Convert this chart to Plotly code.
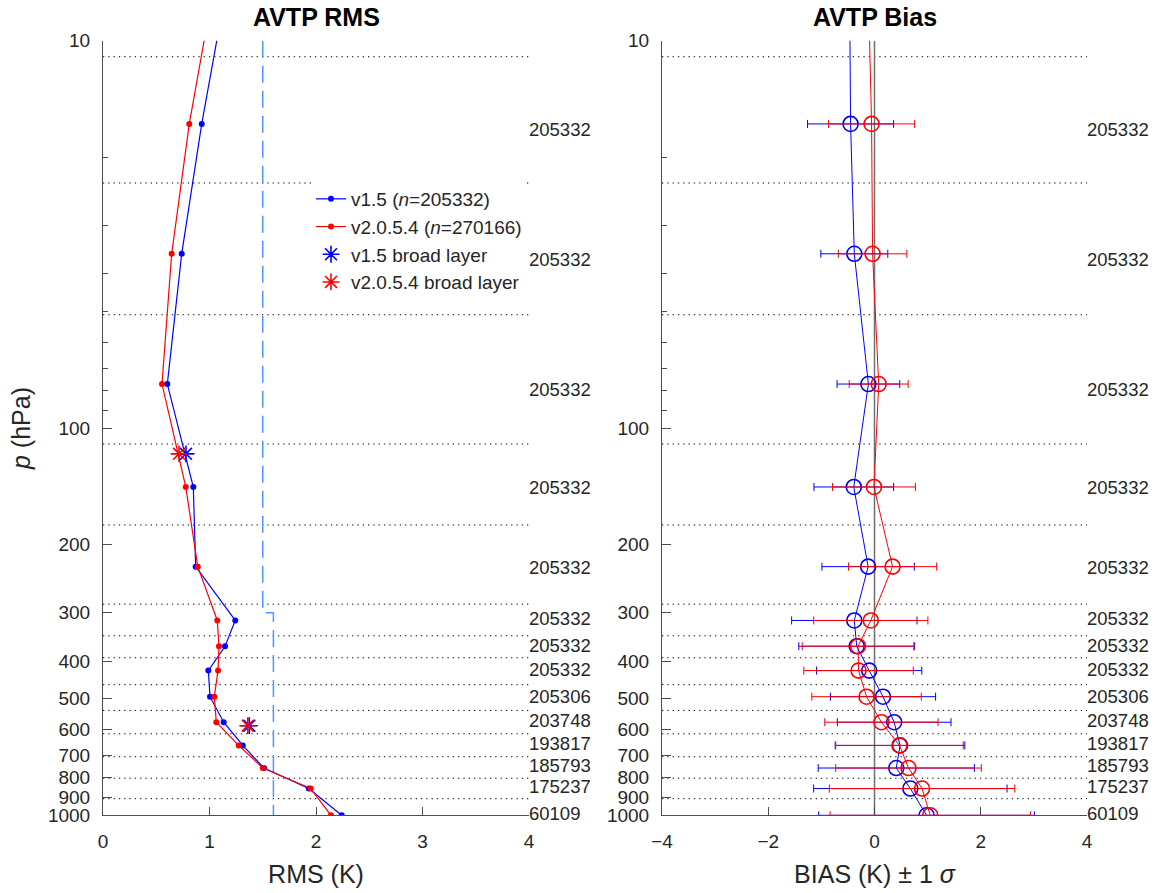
import plotly.graph_objects as go

# ---------------- data ----------------
# pressure levels (hPa); first entry lies above the plotted 10 hPa top (lines run off the top)
levels = [7, 16.4, 35.5, 77, 142, 228, 314, 366, 423, 494, 575, 660, 755, 853, 1000]

rms_v15 = [1.17, 0.927, 0.739, 0.604, 0.848, 0.87, 1.242, 1.146, 0.989, 1.005, 1.133, 1.312, 1.512, 1.932, 2.241]
rms_v2054 = [1.05, 0.81, 0.645, 0.554, 0.777, 0.89, 1.073, 1.089, 1.080, 1.045, 1.064, 1.274, 1.50, 1.95, 2.141]

bias_v15 = [-0.47, -0.45, -0.38, -0.115, -0.39, -0.12, -0.38, -0.335, -0.10, 0.16, 0.37, 0.48, 0.41, 0.675, 0.98]
sigma_v15 = [0.80, 0.81, 0.63, 0.59, 0.75, 0.87, 1.18, 1.09, 0.99, 0.99, 1.07, 1.22, 1.47, 1.82, 2.03]
bias_v2054 = [-0.12, -0.055, -0.036, 0.079, -0.01, 0.34, -0.07, -0.31, -0.30, -0.15, 0.13, 0.47, 0.64, 0.895, 1.05]
sigma_v2054 = [0.80, 0.81, 0.645, 0.555, 0.78, 0.83, 1.075, 1.05, 1.03, 1.03, 1.066, 1.20, 1.37, 1.745, 1.885]

broad_p = [116.6, 587]
broad_rms_v15 = [0.779, 1.374]
broad_rms_v2054 = [0.714, 1.359]

# layer boundaries (hPa); last one is below the 1000 hPa bottom
boundaries = [11.0, 23.3, 51.0, 110, 178, 285, 344, 392, 460, 536, 616, 706, 802, 906, 1100]

counts = [205332, 205332, 205332, 205332, 205332, 205332, 205332, 205332,
          205306, 203748, 193817, 185793, 175237, 60109]

req_p = [10, 300, 300, 1000]
req_rms = [1.5, 1.5, 1.6, 1.6]

n_v15 = 205332
n_v2054 = 270166

# ---------------- figure ----------------
W, H = 1155, 893
BLUE = "#0000ff"
RED = "#ff0000"
TXT = "#262626"
AX = "#4d4d4d"
FONT = "Liberation Sans, Arial, sans-serif"

P_BOTTOM = 1000
label_p = [min((boundaries[i] + boundaries[i + 1]) / 2, P_BOTTOM) for i in range(len(boundaries) - 1)]
label_txt = [str(c) for c in counts]

fig = go.Figure()


def dotted(xr, xa, ya):
    bx, by = [], []
    for b in boundaries[:-1]:
        bx += [xr[0], xr[1], None]
        by += [b, b, None]
    fig.add_trace(go.Scatter(x=bx, y=by, mode="lines", xaxis=xa, yaxis=ya,
                             line=dict(color="#000000", width=1, dash="1.3px,4px"),
                             showlegend=False, hoverinfo="skip"))


# ---- left: RMS ----
dotted([0, 4], "x", "y")
fig.add_trace(go.Scatter(x=req_rms, y=req_p, mode="lines", xaxis="x", yaxis="y",
                         line=dict(color="#4d99ff", width=1.5, dash="17px,8px"),
                         showlegend=False, hoverinfo="skip"))
fig.add_trace(go.Scatter(x=rms_v15, y=levels, mode="lines+markers", xaxis="x", yaxis="y",
                         name=f"v1.5 (<i>n</i>={n_v15})",
                         line=dict(color=BLUE, width=1.2), marker=dict(color=BLUE, size=6)))
fig.add_trace(go.Scatter(x=rms_v2054, y=levels, mode="lines+markers", xaxis="x", yaxis="y",
                         name=f"v2.0.5.4 (<i>n</i>={n_v2054})",
                         line=dict(color=RED, width=1.2), marker=dict(color=RED, size=6)))
fig.add_trace(go.Scatter(x=broad_rms_v15, y=broad_p, mode="markers", xaxis="x", yaxis="y",
                         name="v1.5 broad layer",
                         marker=dict(symbol="asterisk-open", size=14, color=BLUE,
                                     line=dict(color=BLUE, width=1.6))))
fig.add_trace(go.Scatter(x=broad_rms_v2054, y=broad_p, mode="markers", xaxis="x", yaxis="y",
                         name="v2.0.5.4 broad layer",
                         marker=dict(symbol="asterisk-open", size=14, color=RED,
                                     line=dict(color=RED, width=1.6))))
fig.add_trace(go.Scatter(x=[4] * len(label_p), y=label_p, mode="text", text=label_txt,
                         textposition="middle right", cliponaxis=False,
                         textfont=dict(size=18.5, color=TXT, family=FONT),
                         xaxis="x", yaxis="y", showlegend=False, hoverinfo="skip"))

# ---- right: Bias ----
dotted([-4, 4], "x2", "y2")
fig.add_trace(go.Scatter(x=[0, 0], y=[10, 1000], mode="lines", xaxis="x2", yaxis="y2",
                         line=dict(color="#707070", width=1.5), showlegend=False, hoverinfo="skip"))
fig.add_trace(go.Scatter(x=bias_v15, y=levels, mode="lines+markers", xaxis="x2", yaxis="y2",
                         line=dict(color=BLUE, width=1),
                         marker=dict(symbol="circle-open", size=15, color=BLUE,
                                     line=dict(color=BLUE, width=1.6)),
                         error_x=dict(type="data", array=sigma_v15, color=BLUE,
                                      thickness=1, width=4),
                         showlegend=False))
fig.add_trace(go.Scatter(x=bias_v2054, y=levels, mode="lines+markers", xaxis="x2", yaxis="y2",
                         line=dict(color=RED, width=1),
                         marker=dict(symbol="circle-open", size=15, color=RED,
                                     line=dict(color=RED, width=1.6)),
                         error_x=dict(type="data", array=sigma_v2054, color=RED,
                                      thickness=1, width=4),
                         showlegend=False))
fig.add_trace(go.Scatter(x=[4] * len(label_p), y=label_p, mode="text", text=label_txt,
                         textposition="middle right", cliponaxis=False,
                         textfont=dict(size=18.5, color=TXT, family=FONT),
                         xaxis="x2", yaxis="y2", showlegend=False, hoverinfo="skip"))

# ---------------- layout ----------------
ydom = [1 - 815.3 / H, 1 - 40.7 / H]
x1dom = [103 / W, 529 / W]
x2dom = [662 / W, 1087 / W]

yaxis_common = dict(
    type="log", range=[3, 1], domain=ydom,
    tickvals=[10, 100, 200, 300, 400, 500, 600, 700, 800, 900, 1000],
    ticktext=["10", "100", "200", "300", "400", "500", "600", "700", "800", "900", "1000"],
    ticks="inside", ticklen=9, tickcolor=AX, tickwidth=1,
    minor=dict(tickvals=[20, 30, 40, 50, 60, 70, 80, 90], ticks="inside", ticklen=5,
               tickcolor=AX, tickwidth=1),
    showline=True, linecolor=AX, linewidth=1, mirror=False,
    showgrid=False, zeroline=False,
    tickfont=dict(size=19, color=TXT, family=FONT),
    ticklabelstandoff=8,
)
xaxis_common = dict(
    ticks="inside", ticklen=8, tickcolor=AX, tickwidth=1,
    showline=True, linecolor=AX, linewidth=1, mirror=False,
    showgrid=False, zeroline=False,
    tickfont=dict(size=19, color=TXT, family=FONT),
    ticklabelstandoff=9,
)

fig.update_layout(
    width=W, height=H, autosize=False,
    margin=dict(l=0, r=0, t=0, b=0, autoexpand=False),
    paper_bgcolor="white", plot_bgcolor="white",
    font=dict(family=FONT, color=TXT),
    xaxis=dict(**xaxis_common, domain=x1dom, range=[0, 4], tickvals=[0, 1, 2, 3, 4],
               anchor="y",
               title=dict(text="RMS (K)", font=dict(size=25, color=TXT, family=FONT), standoff=14)),
    yaxis=dict(**yaxis_common, anchor="x",
               title=dict(text="<i>p</i> (hPa)", font=dict(size=25, color=TXT, family=FONT),
                          standoff=10)),
    xaxis2=dict(**xaxis_common, domain=x2dom, range=[-4, 4], tickvals=[-4, -2, 0, 2, 4],
                anchor="y2",
                title=dict(text="BIAS (K) ± 1 <i>σ</i>", font=dict(size=25, color=TXT, family=FONT),
                           standoff=14)),
    yaxis2=dict(**yaxis_common, anchor="x2"),
    legend=dict(x=311 / W, y=1 - 180 / H, xanchor="left", yanchor="top",
                bgcolor="white", borderwidth=0,
                font=dict(size=19, color=TXT, family=FONT)),
    annotations=[
        dict(text="<b>AVTP RMS</b>", xref="x domain", x=0.5, yref="paper", y=1 - 17 / H,
             xanchor="center", yanchor="middle", showarrow=False,
             font=dict(size=25, color="#000000", family=FONT)),
        dict(text="<b>AVTP Bias</b>", xref="x2 domain", x=0.5, yref="paper", y=1 - 17 / H,
             xanchor="center", yanchor="middle", showarrow=False,
             font=dict(size=25, color="#000000", family=FONT)),
    ],
    showlegend=True,
)

fig.write_html("out.html", config={"displayModeBar": False},
               post_script="document.body.style.margin='0';")
